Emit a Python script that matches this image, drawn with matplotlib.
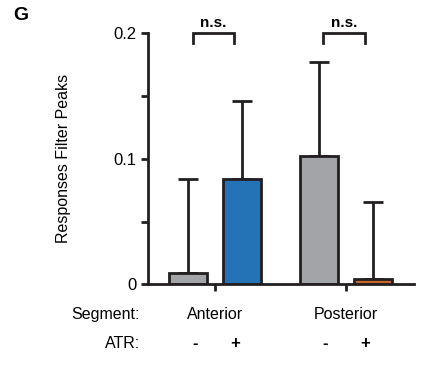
import matplotlib
matplotlib.use("Agg")
import matplotlib.pyplot as plt
import numpy as np

plt.rcParams['font.family'] = ['Liberation Sans', 'DejaVu Sans']

segments = ["Anterior", "Posterior"]
atr_labels = ["-", "+"]
means = [0.0088, 0.0839, 0.1025, 0.0042]
errors = [0.0751, 0.0621, 0.0745, 0.0614]
colors = ["#a3a4a7", "#2473b7", "#a3a4a7", "#c8662a"]
significance = ["n.s.", "n.s."]

ink = "#231f20"
lw = 2.0
group_centers = np.array([0.0, 2.42])
offsets = np.array([-0.5, 0.5])
xpos = np.concatenate([c + offsets for c in group_centers])

fig = plt.figure(figsize=(4.33, 3.70), dpi=100)
ax = fig.add_axes([0.341, 0.2316, 0.615, 0.6784])

ax.errorbar(xpos, means, yerr=[np.zeros(len(means)), errors], fmt='none',
            ecolor=ink, elinewidth=lw, capsize=7.4, capthick=lw, zorder=1)
ax.bar(xpos, means, width=0.7, color=colors, edgecolor=ink, linewidth=lw, zorder=2)

ax.set_xlim(group_centers[0] - 1.254, group_centers[1] + 1.26)
ax.set_ylim(0, 0.2)
ax.set_yticks([0, 0.1, 0.2])
ax.set_yticklabels(["0", "0.1", "0.2"])
ax.set_yticks([0.05, 0.15], minor=True)
ax.tick_params(axis='y', which='both', length=5.2, width=lw, color=ink,
               labelsize=12, pad=3, direction='out')
ax.set_xticks(group_centers)
ax.set_xticklabels([])
ax.tick_params(axis='x', length=5.2, width=lw, color=ink, direction='out')

for side in ['top', 'right']:
    ax.spines[side].set_visible(False)
for side in ['left', 'bottom']:
    ax.spines[side].set_linewidth(lw)
    ax.spines[side].set_color(ink)

ax.set_ylabel("Responses Filter Peaks", fontsize=11.5, labelpad=30)

# significance brackets above each pair
for c, lab in zip(group_centers, significance):
    x0, x1 = c - 0.42, c + 0.35
    ax.plot([x0, x0, x1, x1], [0.192, 0.2, 0.2, 0.192], color=ink, lw=lw,
            clip_on=False, solid_joinstyle='miter')
    ax.text((x0 + x1) / 2, 1.042, lab, transform=ax.get_xaxis_transform(),
            ha='center', va='center', fontsize=11, fontweight='bold')

# condition rows under the axis
trans = ax.get_xaxis_transform()
ax.text(-0.029, -0.122, "Segment:", transform=ax.transAxes, ha='right', va='center', fontsize=11.5)
ax.text(-0.029, -0.234, "ATR:", transform=ax.transAxes, ha='right', va='center', fontsize=11.5)
for c, seg in zip(group_centers, segments):
    ax.text(c, -0.122, seg, transform=trans, ha='center', va='center', fontsize=11.5)
    for off, lab in zip([-0.38, 0.36], atr_labels):
        ax.text(c + off, -0.234, lab, transform=trans, ha='center', va='center',
                fontsize=12, fontweight='bold')

fig.text(13 / 433, 1 - 15 / 370, "G", ha='left', va='center', fontsize=14, fontweight='bold')

fig.savefig("out.png", dpi=100)
